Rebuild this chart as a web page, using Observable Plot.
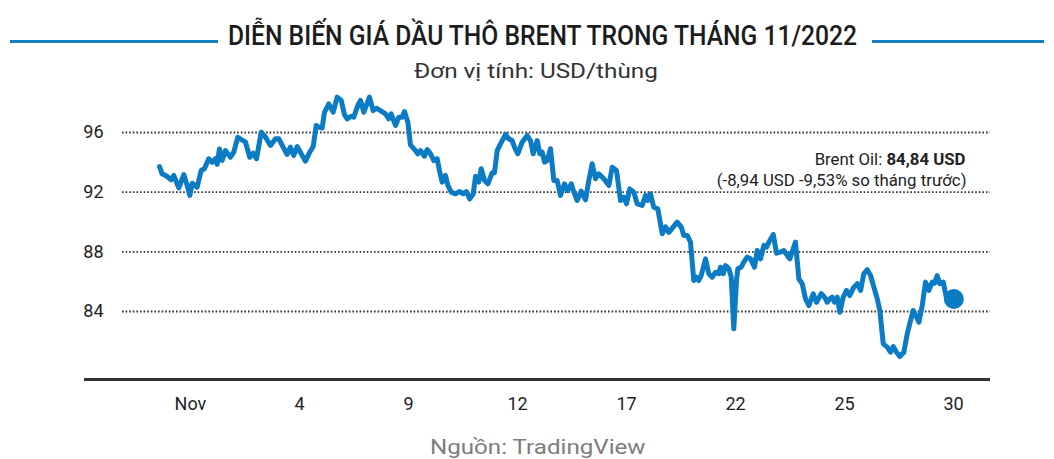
<!DOCTYPE html>
<html><head><meta charset="utf-8">
<script src="https://cdn.jsdelivr.net/npm/d3@7"></script>
<script src="https://cdn.jsdelivr.net/npm/@observablehq/plot@0.6"></script>
<style>
body{margin:0;background:#fff;font-family:Roboto,"Noto Sans",sans-serif;}
#wrap{width:1054px;height:459px;overflow:hidden;}
#head{position:relative;height:90px;}
.rule{position:absolute;height:3px;background:#1a7fc1;top:40px;}
.fit{position:absolute;white-space:nowrap;transform-origin:left center;line-height:1;}
#title{font-size:27px;font-weight:500;color:#1c1c1c;}
#sub{font-size:21px;color:#333;}
#foot{position:relative;height:34px;}
#src{font-size:21px;color:#7d7d7d;font-weight:400;}
#chart svg{display:block;}
</style></head><body>
<div id="wrap">
<div id="head">
 <div class="rule" style="left:10px;width:208px"></div>
 <div class="rule" style="left:872px;width:172px"></div>
 <div id="title" class="fit">DIỄN BIẾN GIÁ DẦU THÔ BRENT TRONG THÁNG 11/2022</div>
 <div id="sub" class="fit">Đơn vị tính: USD/thùng</div>
</div>
<div id="chart"></div>
<div id="foot"><div id="src" class="fit">Nguồn: TradingView</div></div>
</div>
<script>
// position along the axis, in units of tick spacing (0 = "Nov", 7 = "30")
const t = [
-0.284,-0.260,-0.214,-0.177,-0.153,-0.107,-0.061,-0.030,-0.006,0.016,
0.061,0.098,0.128,0.168,0.199,0.229,0.245,0.266,0.291,0.321,
0.367,0.397,0.434,0.505,0.544,0.575,0.606,0.649,0.688,0.734,
0.780,0.810,0.850,0.887,0.917,0.948,0.979,1.016,1.055,1.094,
1.126,1.153,1.177,1.208,1.229,1.269,1.309,1.346,1.383,1.413,
1.438,1.474,1.498,1.535,1.560,1.590,1.642,1.676,1.706,1.743,
1.789,1.819,1.841,1.881,1.911,1.942,1.963,1.994,2.018,2.064,
2.085,2.110,2.147,2.172,2.202,2.232,2.263,2.284,2.309,2.339,
2.361,2.392,2.431,2.471,2.502,2.532,2.562,2.594,2.615,2.645,
2.667,2.697,2.728,2.768,2.789,2.814,2.844,2.890,2.920,2.951,
2.972,3.003,3.043,3.089,3.119,3.144,3.181,3.205,3.227,3.248,
3.272,3.303,3.333,3.364,3.394,3.431,3.461,3.493,3.517,3.548,
3.584,3.624,3.654,3.685,3.716,3.746,3.792,3.838,3.869,3.908,
3.945,3.975,4.000,4.030,4.067,4.098,4.144,4.174,4.195,4.220,
4.250,4.287,4.328,4.358,4.388,4.465,4.502,4.526,4.557,4.587,
4.617,4.642,4.663,4.685,4.725,4.755,4.786,4.817,4.847,4.862,
4.887,4.908,4.939,4.961,4.984,5.009,5.021,5.052,5.076,5.107,
5.138,5.174,5.199,5.229,5.260,5.284,5.306,5.346,5.376,5.413,
5.443,5.474,5.498,5.529,5.550,5.581,5.612,5.642,5.672,5.713,
5.743,5.786,5.817,5.841,5.865,5.887,5.908,5.933,5.957,5.988,
6.018,6.049,6.085,6.117,6.147,6.177,6.208,6.239,6.269,6.300,
6.324,6.355,6.392,6.422,6.447,6.477,6.507,6.544,6.575,6.606,
6.630,6.661,6.682,6.713,6.743,6.773,6.804,6.826,6.850,6.874,
6.906,6.936,7.003
];
// Brent price, USD/barrel
const price = [
93.72,93.23,93.05,92.83,93.12,92.29,93.18,92.45,91.78,92.6,
92.33,93.45,93.57,94.24,94.01,94.24,93.86,94.9,94.12,94.79,
94.34,94.68,95.68,95.35,94.34,94.61,94.24,96.02,95.69,95.13,
95.58,95.58,95.02,94.53,95.02,94.46,95.06,94.57,94.08,94.68,
95.06,96.47,96.36,96.3,97.35,97.92,97.36,98.37,98.15,97.19,
96.92,97.09,97.03,97.81,98.15,97.36,98.37,97.47,97.63,97.47,
97.25,96.92,97.25,96.47,97.03,97.03,97.41,96.69,95.17,94.79,
94.57,94.79,94.41,94.86,94.57,94.12,94.24,93.45,92.67,93.12,
92.45,92.0,91.89,92.04,91.89,92.04,91.55,91.89,93.07,92.67,
93.57,92.78,92.56,93.3,93.3,94.79,95.24,95.87,95.58,95.46,
95.02,94.57,95.35,95.8,95.46,94.57,95.46,94.57,94.68,94.01,
94.12,94.91,92.78,92.78,91.78,92.56,92.11,92.56,92.0,91.44,
92.07,91.49,92.78,93.9,92.9,93.23,92.9,92.45,93.67,93.45,
91.44,91.66,91.22,92.22,92.0,91.22,91.11,91.78,91.44,91.89,
90.99,90.88,89.21,89.68,89.3,89.99,89.66,89.1,89.1,88.65,
86.08,86.3,86.08,86.41,87.53,86.53,86.3,86.63,86.53,86.97,
86.53,87.08,86.86,86.3,82.84,86.08,86.86,86.97,87.31,87.64,
87.53,86.97,88.09,87.53,88.43,88.31,88.65,89.16,87.91,87.98,
88.09,87.76,87.53,88.2,88.65,86.19,85.86,84.85,84.4,85.18,
84.62,85.2,84.96,84.62,84.85,84.96,84.62,84.96,83.95,84.96,
85.41,85.07,85.63,85.86,85.41,86.53,86.8,86.41,85.63,84.85,
84.07,81.83,81.61,81.27,81.65,81.27,80.98,81.27,82.5,83.4,
84.07,83.62,83.28,84.4,85.97,85.41,85.97,85.9,86.41,85.86,
85.97,84.85,84.84
];
const xTicks = [0,1,2,3,4,5,6,7];
const xLabels = ["Nov","4","9","12","17","22","25","30"];
const yTicks = [84,88,92,96];
const annotLine1 = "Brent Oil: 84,84 USD";
const annotBold = "84,84 USD";
const annotLine2 = "(-8,94 USD -9,53% so tháng trước)";

const data = t.map((d,i)=>({t:d, v:price[i]}));
const last = data[data.length-1];
const blue = "#0a7bc4";
const yMin = 79.44;

const plot = Plot.plot({
  width:1054, height:335,
  marginLeft:84, marginRight:64, marginTop:0, marginBottom:46,
  x:{domain:[-0.972,7.339], axis:null},
  y:{domain:[yMin,98.816], axis:null},
  style:{fontFamily:"Roboto, sans-serif", background:"transparent", overflow:"visible"},
  marks:[
    Plot.ruleY(yTicks,{stroke:"#333", strokeWidth:1.8, strokeDasharray:"1.6,2", insetLeft:38}),
    Plot.ruleY([yMin],{stroke:"#333", strokeWidth:3}),
    Plot.text(yTicks,{y:d=>d, frameAnchor:"left", dx:19, textAnchor:"end", text:d=>String(d), fontSize:18, fill:"#222"}),
    Plot.text(xTicks,{x:d=>d, frameAnchor:"bottom", dy:30, text:(d,i)=>xLabels[i], fontSize:18, fill:"#222"}),
    Plot.line(data,{x:"t", y:"v", stroke:blue, strokeWidth:5, strokeLinejoin:"round", strokeLinecap:"round"}),
    Plot.dot([last],{x:"t", y:"v", r:10, fill:blue}),
    Plot.text([annotLine1],{text:d=>d, frameAnchor:"top-right", dx:-25, dy:62.7, textAnchor:"end", fontSize:16.8, fill:"#222"}),
    Plot.text([annotLine2],{text:d=>d, frameAnchor:"top-right", dx:-24, dy:83.6, textAnchor:"end", fontSize:16.8, fill:"#222"})
  ]
});
document.getElementById("chart").appendChild(plot);

// bold value in the annotation
plot.querySelectorAll("text").forEach(el=>{
  if (el.textContent === annotLine1) {
    el.textContent = "";
    const a = document.createElementNS("http://www.w3.org/2000/svg","tspan");
    a.textContent = annotLine1.replace(annotBold,"");
    const b = document.createElementNS("http://www.w3.org/2000/svg","tspan");
    b.textContent = annotBold; b.setAttribute("font-weight","700");
    el.appendChild(a); el.appendChild(b);
  }
});

function fit(id, left, width, centerY){
  const el = document.getElementById(id);
  const w = el.offsetWidth, fs = parseFloat(getComputedStyle(el).fontSize);
  el.style.left = left+"px";
  el.style.top = (centerY - 0.486*fs)+"px";
  el.style.transform = "scaleX("+(width/w)+")";
}
fit("title",228,629,36);
fit("sub",414,244,71);
fit("src",430,215,22);
</script>
</body></html>
